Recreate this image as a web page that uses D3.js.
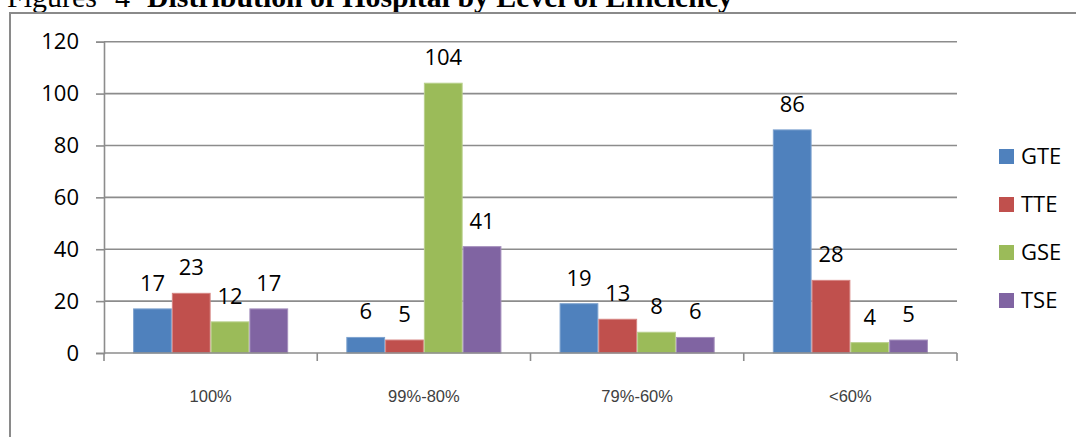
<!DOCTYPE html>
<html>
<head>
<meta charset="utf-8">
<script src="https://cdn.jsdelivr.net/npm/d3@7"></script>
<style>
  html, body { margin: 0; padding: 0; background: #fff; }
  svg { display: block; }
</style>
</head>
<body>
<svg id="chart" width="1076" height="437"></svg>
<script>
// Efficiency bands and the four efficiency measures
const categories = ["100%", "99%-80%", "79%-60%", "<60%"];
const seriesNames = ["GTE", "TTE", "GSE", "TSE"];
const GTE = [17, 6, 19, 86];
const TTE = [23, 5, 13, 28];
const GSE = [12, 104, 8, 4];
const TSE = [17, 41, 6, 5];
const yTicks = [0, 20, 40, 60, 80, 100, 120];
const colors = ["#4F81BD", "#C0504D", "#9BBB59", "#8064A2"];
const edgeColors = ["#7ea3cf", "#d68482", "#b9d08c", "#a590bd"];

const seriesValues = [GTE, TTE, GSE, TSE];
const rows = categories.map((c, i) => ({
  category: c,
  values: seriesNames.map((s, j) => ({ key: s, value: seriesValues[j][i], idx: j }))
}));

const svg = d3.select("#chart");

// Caption line above the frame
const serif = "'Liberation Serif', 'Times New Roman', serif";
svg.append("text")
  .attr("x", 97).attr("y", 7).attr("text-anchor", "end")
  .attr("font-family", serif).attr("font-size", 30).attr("fill", "#000")
  .text("Figures");
svg.append("text")
  .attr("x", 115).attr("y", 7)
  .attr("font-family", serif).attr("font-size", 30).attr("fill", "#000")
  .text("4");
svg.append("text")
  .attr("x", 147).attr("y", 7)
  .attr("font-family", serif).attr("font-size", 29.8).attr("font-weight", "bold").attr("fill", "#000")
  .text("Distribution of Hospital by Level of Efficiency");

// Chart frame
svg.append("rect")
  .attr("x", 10).attr("y", 13)
  .attr("width", 1100).attr("height", 460)
  .attr("fill", "none")
  .attr("stroke", "#8a8a8a")
  .attr("stroke-width", 2);

const plotLeft = 104, plotRight = 957, plotTop = 41.7, plotBottom = 353;

const x = d3.scaleBand().domain(categories).range([plotLeft, plotRight]).padding(0);
const xInner = d3.scaleBand().domain(seriesNames).range([0, x.bandwidth()])
  .paddingInner(0).paddingOuter(0.75);
const y = d3.scaleLinear().domain([0, 120]).range([plotBottom, plotTop]);

const axisColor = "#8c8c8c";
const numFont = "'Open Sans', 'Noto Sans', sans-serif";

// Horizontal gridlines
svg.append("g")
  .selectAll("line")
  .data(yTicks.filter(t => t > 0))
  .join("line")
  .attr("x1", plotLeft).attr("x2", plotRight)
  .attr("y1", d => y(d)).attr("y2", d => y(d))
  .attr("stroke", axisColor).attr("stroke-width", 1.6);

// Y axis
const yAxis = svg.append("g")
  .attr("transform", `translate(${plotLeft},0)`)
  .call(d3.axisLeft(y).tickValues(yTicks).tickSize(8).tickPadding(17));
yAxis.select(".domain").attr("stroke", axisColor).attr("stroke-width", 1.6);
yAxis.selectAll(".tick line").attr("stroke", axisColor).attr("stroke-width", 1.6);
yAxis.selectAll(".tick text")
  .attr("font-family", numFont).attr("font-size", 22).attr("fill", "#000");

// Bars
const groups = svg.append("g")
  .selectAll("g")
  .data(rows)
  .join("g")
  .attr("transform", d => `translate(${x(d.category)},0)`);

groups.selectAll("rect")
  .data(d => d.values)
  .join("rect")
  .attr("x", d => xInner(d.key) + 0.5)
  .attr("width", xInner.bandwidth() - 1)
  .attr("y", d => y(d.value))
  .attr("height", d => y(0) - y(d.value))
  .attr("fill", d => colors[d.idx])
  .attr("stroke", d => edgeColors[d.idx])
  .attr("stroke-width", 1);

// Value labels
groups.selectAll("text")
  .data(d => d.values)
  .join("text")
  .attr("x", d => xInner(d.key) + xInner.bandwidth() / 2)
  .attr("y", d => y(d.value) - 18)
  .attr("text-anchor", "middle")
  .attr("font-family", numFont).attr("font-size", 22).attr("fill", "#000")
  .text(d => d.value);

// X axis with ticks on category boundaries
const xAxis = svg.append("g")
  .attr("transform", `translate(0,${plotBottom})`)
  .call(d3.axisBottom(x).tickSize(0).tickPadding(37));
xAxis.select(".domain").remove();
xAxis.selectAll(".tick text")
  .attr("font-family", "'Liberation Sans', Arial, sans-serif")
  .attr("font-size", 16.5).attr("fill", "#404040");

const bounds = categories.map(c => x(c)).concat([plotRight]);
xAxis.append("line")
  .attr("x1", plotLeft).attr("x2", plotRight)
  .attr("y1", 0).attr("y2", 0)
  .attr("stroke", axisColor).attr("stroke-width", 1.6);
xAxis.selectAll(".bound")
  .data(bounds)
  .join("line")
  .attr("class", "bound")
  .attr("x1", d => d).attr("x2", d => d)
  .attr("y1", 0).attr("y2", 8)
  .attr("stroke", axisColor).attr("stroke-width", 1.6);

// Legend
const legend = svg.append("g")
  .selectAll("g")
  .data(seriesNames)
  .join("g")
  .attr("transform", (d, i) => `translate(999,${156.5 + i * 48})`);
legend.append("rect")
  .attr("x", 0).attr("y", -7.5)
  .attr("width", 15).attr("height", 15)
  .attr("fill", (d, i) => colors[i]);
legend.append("text")
  .attr("x", 22).attr("y", 0)
  .attr("dy", "0.36em")
  .attr("font-family", numFont).attr("font-size", 22).attr("fill", "#000")
  .text(d => d);
</script>
</body>
</html>
